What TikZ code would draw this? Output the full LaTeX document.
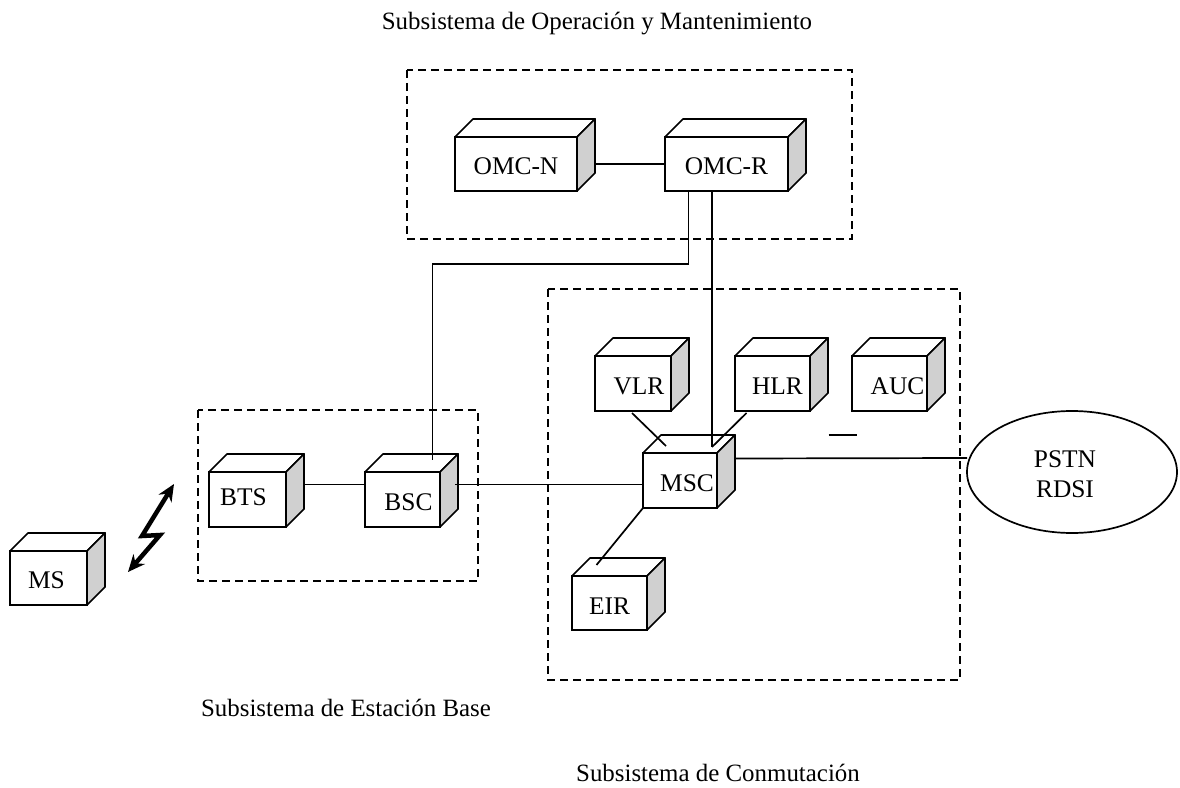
\documentclass[tikz,border=0pt]{standalone}
\usepackage{fontspec}
\setmainfont{Liberation Serif}
\usetikzlibrary{shapes.geometric,arrows.meta}
\definecolor{cubegray}{RGB}{208,208,208}
\tikzset{
  cubefront/.style={draw, line width=1.7bp, fill=white, inner sep=0pt, outer sep=0pt},
  cubeedge/.style={line width=1.7bp, line join=round},
  lbl/.style={inner sep=0pt, font=\fontsize{25.5}{30}\selectfont},
  ttl/.style={inner sep=0pt, font=\fontsize{25}{30}\selectfont, anchor=base},
  conn/.style={line width=1.7bp},
  zone/.style={line width=1.7bp, dash pattern=on 8bp off 5bp},
}
\newcommand{\cubebox}[8]{%
  \node[cubefront, minimum width=#4bp, minimum height=#5bp, anchor=north west] (#1) at (#2,#3) {};
  \draw[cubeedge, fill=white] (#1.north west) -- ++(18,-18) -- ([shift={(18,-18)}]#1.north east) -- (#1.north east) -- cycle;
  \draw[cubeedge, fill=cubegray] (#1.north east) -- ++(18,-18) -- ([shift={(18,-18)}]#1.south east) -- (#1.south east) -- cycle;
  \node[lbl] (#1l) at ([shift={(#7,#8)}]#1.center) {#6};
}
\begin{document}
\begin{tikzpicture}[x=1bp,y=-1bp]
\useasboundingbox (0,0) rectangle (1180,788);

% zones
\draw[zone] (407,70) rectangle (852,239);
\draw[zone] (198,410) rectangle (478,581);
\draw[zone] (548,289) rectangle (960,680);

% boxes
\cubebox{omcn}{455}{137}{122}{54}{OMC-N}{0}{2}
\cubebox{omcr}{665}{137}{123}{54}{OMC-R}{0}{2}
\cubebox{ms}{10}{551}{77}{54}{MS}{-2}{2}
\cubebox{bts}{209}{472}{77}{55}{BTS}{-4}{-2}
\cubebox{bsc}{365}{472}{75}{55}{BSC}{6}{3}
\cubebox{vlr}{595}{356}{76}{55}{VLR}{6}{3}
\cubebox{hlr}{735}{356}{75}{55}{HLR}{5}{3}
\cubebox{auc}{852}{356}{75}{55}{AUC}{8}{3}
\cubebox{msc}{643}{453}{74}{55}{MSC}{7}{3}
\cubebox{eir}{572}{576}{75}{54}{EIR}{0}{3}

\node[draw, ellipse, line width=1.7bp, minimum width=210bp, minimum height=122bp, inner sep=0pt, outer sep=0pt] (pstn) at (1072,472) {};
\node[lbl, align=center] (pstnl) at ([shift={(-7,2)}]pstn.center) {PSTN\\RDSI};

% connectors
\draw[conn] ([shift={(18,0)}]omcn.east) -- (omcr.west);
\draw[conn] ([shift={(-38,0)}]omcr.south) -- ++(0,73) -| ([shift={(30,-12)}]bsc.north);
\coordinate (mscin) at ([shift={(32,-6)}]msc.north);
\draw[conn] (mscin |- omcr.south) -- (mscin);
\draw[conn] (hlr.south) ++(-26,2) -- (mscin);
\draw[conn] ([shift={(-1,2)}]vlr.south) -- ([shift={(-14,-7)}]msc.north);
\draw[conn] ([shift={(18,-15)}]bts.east) -- ([shift={(0,-15)}]bsc.west);
\draw[conn] ([shift={(15,-15)}]bsc.east) -- ([shift={(0,4)}]msc.west);
\draw[conn] (msc.south west) -- ([shift={(-13,-11)}]eir.north);
\draw[conn] ([shift={(18,-22)}]msc.east) -- (pstn.west |- 0,458);
\draw[conn] ([shift={(-61,24)}]auc.south) -- ++(28,0);

% radio link
\coordinate (rtop) at (174,484);
\coordinate (rbot) at (128,572);
\draw[line width=4.5bp, line join=miter, {Stealth[length=17bp,width=15bp]}-{Stealth[length=17bp,width=15bp]}]
  (rtop) -- (142,536) -- (160,535) -- (rbot);

% titles
\node[ttl] (tomc) at (597,30) {Subsistema de Operación y Mantenimiento};
\node[ttl] (tbss) at (346,716) {Subsistema de Estación Base};
\node[ttl] (tnss) at (718,781) {Subsistema de Conmutación};
\end{tikzpicture}
\end{document}
